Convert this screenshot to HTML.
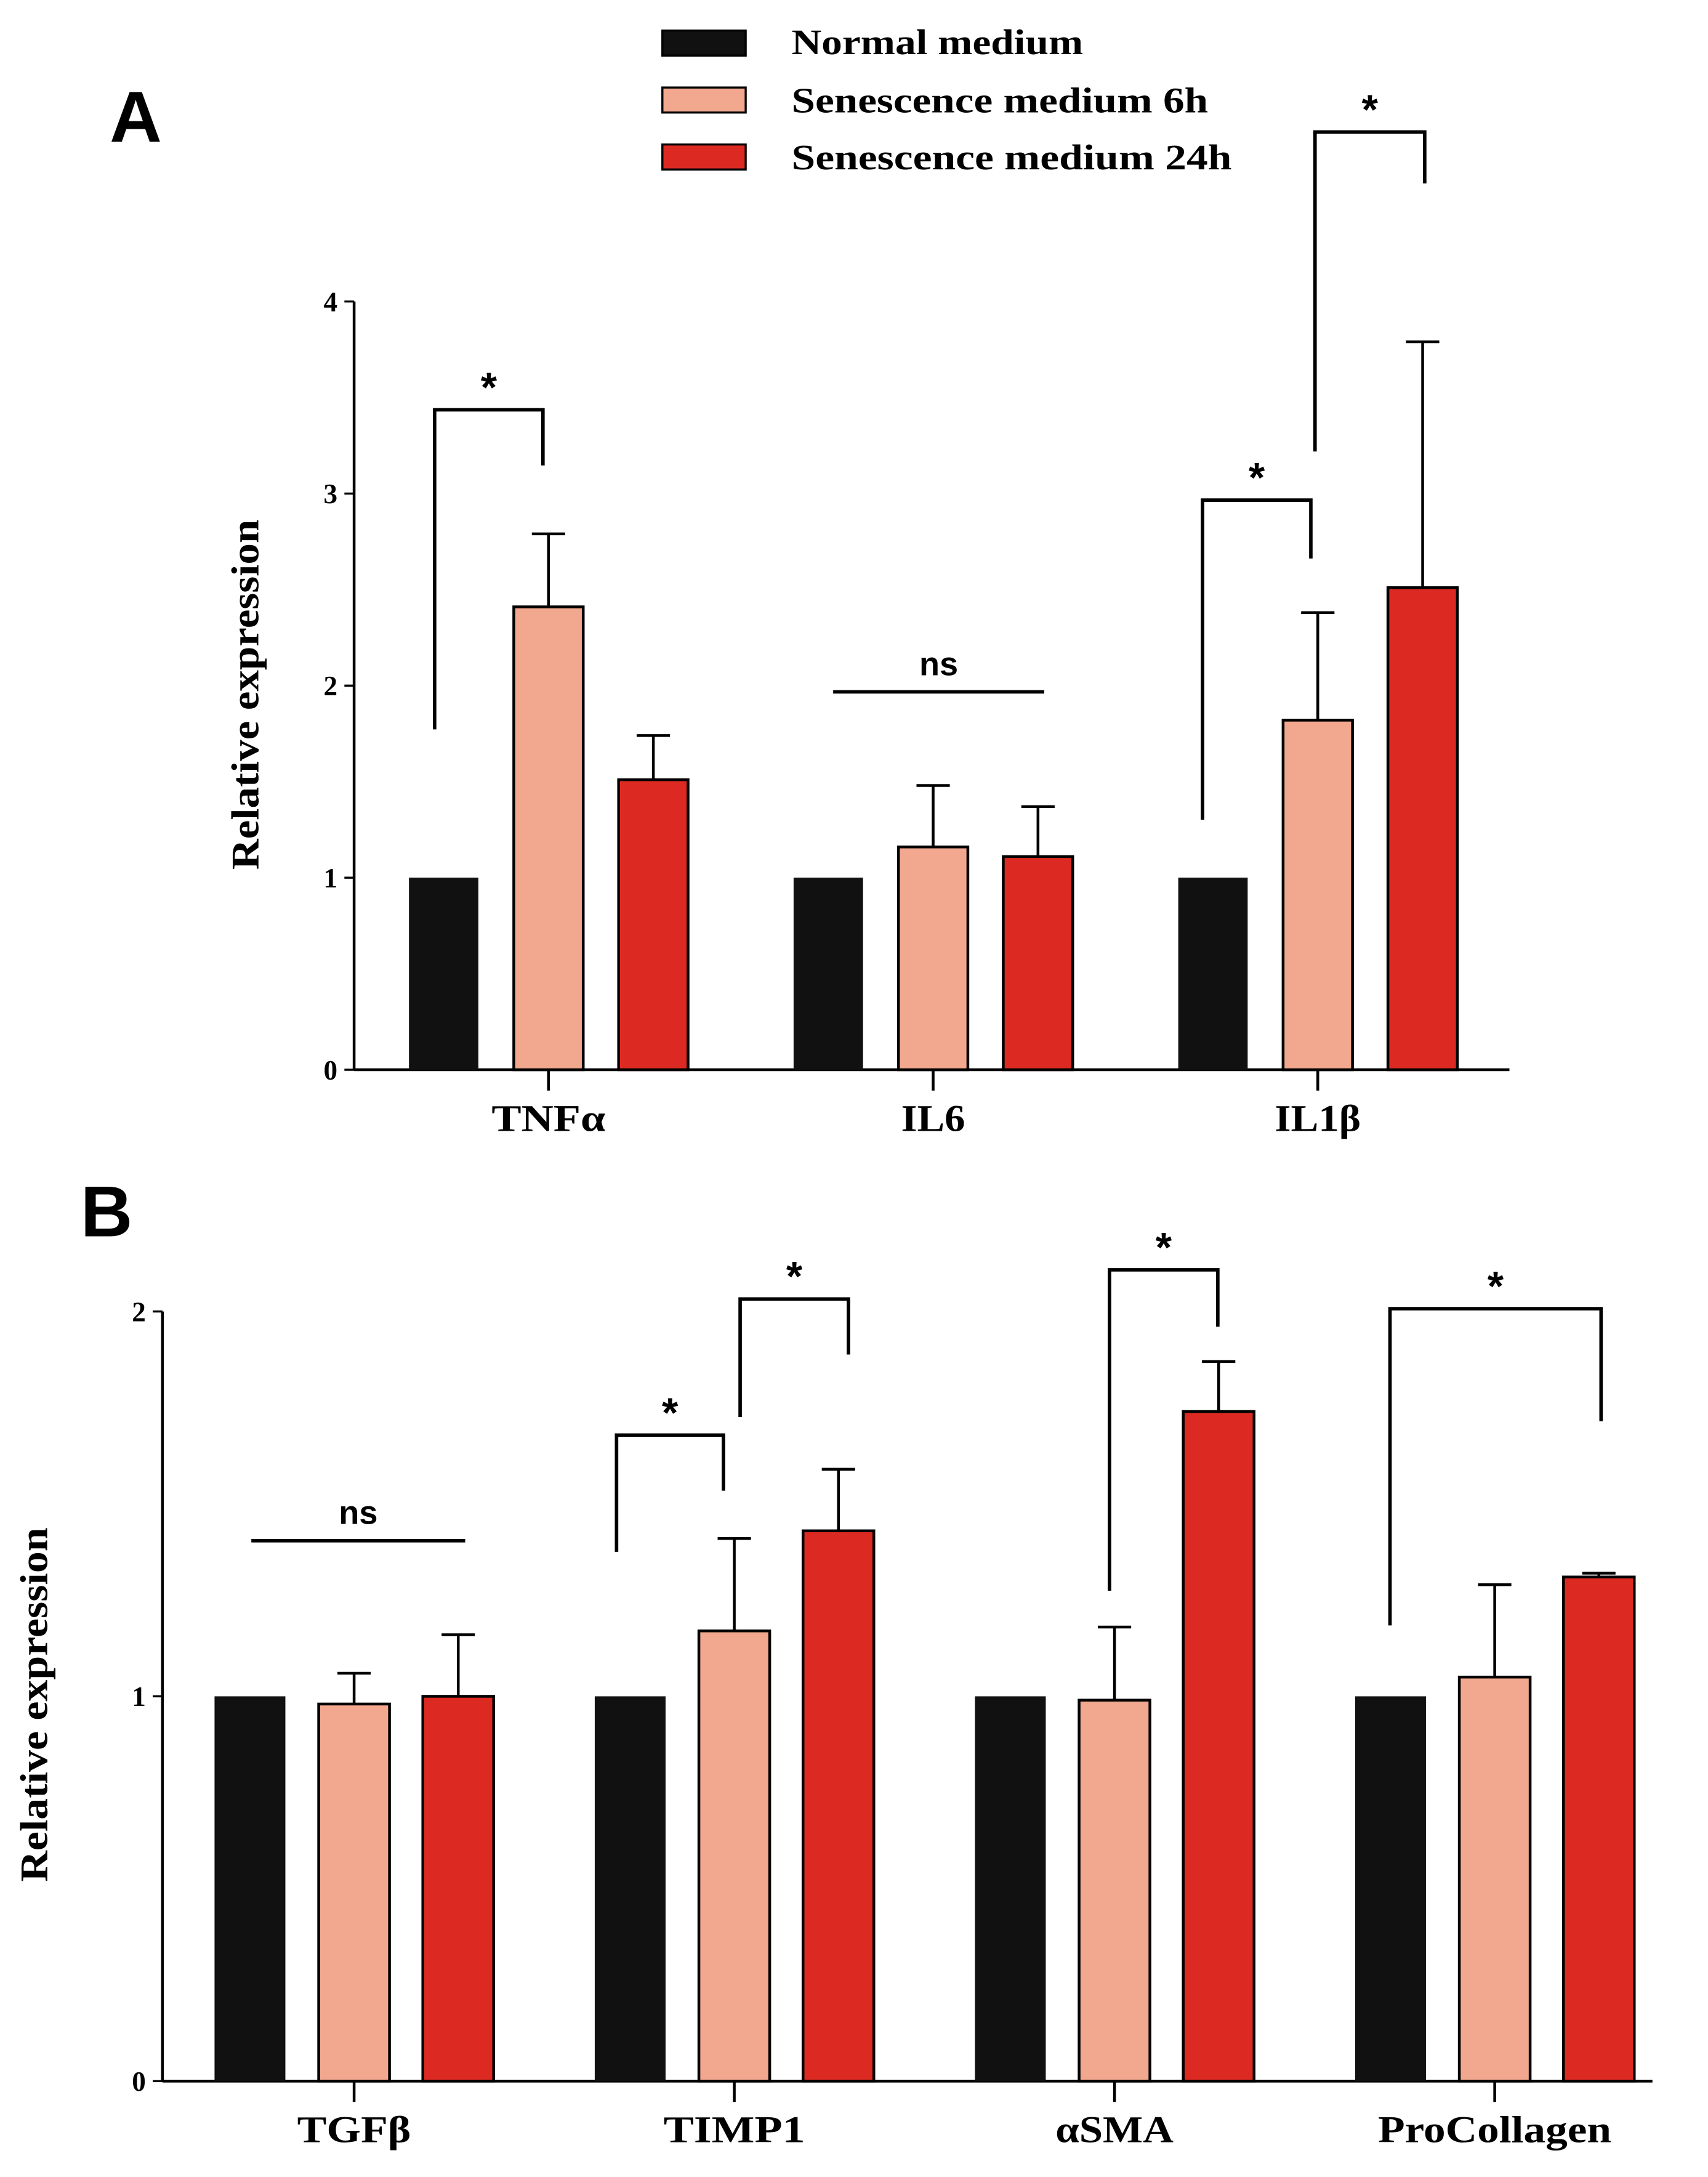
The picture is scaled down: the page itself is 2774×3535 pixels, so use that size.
<!DOCTYPE html>
<html><head><meta charset="utf-8"><style>
html,body{margin:0;padding:0;background:#fff;}
svg{display:block;}
.lab{font-family:"Liberation Serif",serif;font-weight:bold;}
.sans{font-family:"Liberation Sans",sans-serif;font-weight:bold;}
</style></head><body>
<svg id="fig" xmlns="http://www.w3.org/2000/svg" width="2774" height="3535" viewBox="0 0 1230 1567" preserveAspectRatio="none">
<rect width="1230" height="1567" fill="#fff"/>
<g>
 <g><rect x="477" y="22" width="60" height="18" fill="#111" stroke="#000" stroke-width="1.5"/><text class="lab" x="570" y="39" font-size="26" textLength="210" lengthAdjust="spacingAndGlyphs">Normal medium</text></g>
 <g><rect x="477" y="63" width="60" height="18" fill="#f2a88e" stroke="#000" stroke-width="1.5"/><text class="lab" x="570" y="81" font-size="26" textLength="300" lengthAdjust="spacingAndGlyphs">Senescence medium 6h</text></g>
 <g><rect x="477" y="104" width="60" height="18" fill="#dc2a22" stroke="#000" stroke-width="1.5"/><text class="lab" x="570" y="122" font-size="26" textLength="317" lengthAdjust="spacingAndGlyphs">Senescence medium 24h</text></g>
</g>
<text class="sans" x="79" y="102" font-size="52">A</text>
<text class="sans" x="58" y="890" font-size="52">B</text>
<g id="pA"></g>
<g id="pB"></g>
</svg>
<script>
const catsA = ["TNF\u03b1","IL6","IL1\u03b2"];
const normA = [1,1,1];
const h6A = [2.41,1.16,1.82];
const h24A = [1.51,1.11,2.51];
const h6ErrA = [2.79,1.48,2.38];
const h24ErrA = [1.74,1.37,3.79];
const ticksA = [0,1,2,3,4];

const catsB = ["TGF\u03b2","TIMP1","\u03b1SMA","ProCollagen"];
const normB = [1,1,1,1];
const h6B = [0.98,1.17,0.99,1.05];
const h24B = [1.00,1.43,1.74,1.31];
const h6ErrB = [1.06,1.41,1.18,1.29];
const h24ErrB = [1.16,1.59,1.87,1.32];
const ticksB = [0,1,2];

const NS="http://www.w3.org/2000/svg";
function mk(parent,tag,attrs,text){const e=document.createElementNS(NS,tag);for(const k in attrs)e.setAttribute(k,attrs[k]);if(text!==undefined)e.textContent=text;parent.appendChild(e);return e;}

function drawPanel(g,cfg){
  const y=v=>cfg.y0-(v-cfg.vmin)/(cfg.vmax-cfg.vmin)*(cfg.y0-cfg.yTop);
  const gx=i=>cfg.c0+i*cfg.step;
  let a=mk(g,'line',{x1:cfg.ax,y1:cfg.yTop,x2:cfg.ax,y2:cfg.y0,stroke:'#000','stroke-width':2});
  
  
  a=mk(g,'line',{x1:cfg.ax,y1:cfg.y0,x2:cfg.xEnd,y2:cfg.y0,stroke:'#000','stroke-width':2});
  
  
  cfg.ticks.forEach(t=>{
    const l=mk(g,'line',{x1:cfg.ax-7,y1:y(t),x2:cfg.ax,y2:y(t),stroke:'#000','stroke-width':1.5});
    
    
    const tx=mk(g,'text',{x:cfg.ax-12,y:y(t)+7,'text-anchor':'end','font-size':20,class:'lab'},String(t));
    
    
  });
  const cy=cfg.ylc;
  const yl=mk(g,'text',{x:cfg.ylx,y:cy,'text-anchor':'middle','font-size':28,class:'lab',textLength:cfg.yll,lengthAdjust:'spacingAndGlyphs',transform:`rotate(-90 ${cfg.ylx} ${cy})`},'Relative expression');
  
  
  const series=[[cfg.norm,null,'#111'],[cfg.h6,cfg.h6Err,'#f2a88e'],[cfg.h24,cfg.h24Err,'#dc2a22']];
  cfg.cats.forEach((c,i)=>{
    const cx=gx(i);
    series.forEach((s,j)=>{
      const bx=cx+(j-1)*cfg.bsp-cfg.bw/2;
      const v=s[0][i];
      if(s[1]){
        const e=mk(g,'path',{d:`M${bx+cfg.bw/2} ${y(v)} V${y(s[1][i])} M${bx+cfg.bw/2-12} ${y(s[1][i])} H${bx+cfg.bw/2+12}`,stroke:'#000','stroke-width':2,fill:'none'});
        
        
      }
      const r=mk(g,'rect',{x:bx,y:y(v),width:cfg.bw,height:cfg.y0-y(v),fill:s[2],stroke:j?'#000':'none','stroke-width':2});
      
      
    });
    const t=mk(g,'line',{x1:cx,y1:cfg.y0,x2:cx,y2:cfg.y0+15,stroke:'#000','stroke-width':2});
    
    
    const lb=mk(g,'text',{x:cx,y:cfg.y0+44,'text-anchor':'middle','font-size':27,class:'lab',textLength:cfg.labW[i],lengthAdjust:'spacingAndGlyphs'},c);
    
    
  });
  cfg.brackets.forEach(b=>{
    const p=mk(g,'path',{d:`M${b[0]} ${b[1]} V${b[2]} H${b[3]} V${b[4]}`,stroke:'#000','stroke-width':2.5,fill:'none'});
    
    
    const s=mk(g,'text',{x:(b[0]+b[3])/2,y:b[2]-6,'text-anchor':'middle','font-size':30,class:'sans'},'*');
    
    
  });
  const n=cfg.ns;
  const nl=mk(g,'line',{x1:n[0],y1:n[2],x2:n[1],y2:n[2],stroke:'#000','stroke-width':2.5});
  
  
  const nt=mk(g,'text',{x:(n[0]+n[1])/2,y:n[2]-12,'text-anchor':'middle','font-size':24,class:'sans'},'ns');
  
  
}
drawPanel(document.getElementById('pA'),{cats:catsA,norm:normA,h6:h6A,h24:h24A,h6Err:h6ErrA,h24Err:h24ErrA,ticks:ticksA,
  vmin:0,vmax:4,y0:770,yTop:217,ax:255,xEnd:1087,c0:395,step:277,bw:50,bsp:75.5,ylx:186,ylc:500,yll:252,labW:[82,46,62],
  brackets:[[313,525,295,391,335],[866,590,360,944,402],[947,325,95,1026,132]],ns:[600,752,498]});
drawPanel(document.getElementById('pB'),{cats:catsB,norm:normB,h6:h6B,h24:h24B,h6Err:h6ErrB,h24Err:h24ErrB,ticks:ticksB,
  vmin:0,vmax:2,y0:1498,yTop:944,ax:117,xEnd:1190,c0:255,step:273.8,bw:51,bsp:75,ylx:34,ylc:1227,yll:255,labW:[82,102,85,168],
  brackets:[[444,1117,1033,521,1073],[533,1020,935,611,975],[799,1145,914,877,955],[1001,1170,942,1153,1023]],ns:[181,335,1109]});
</script>
</body></html>
